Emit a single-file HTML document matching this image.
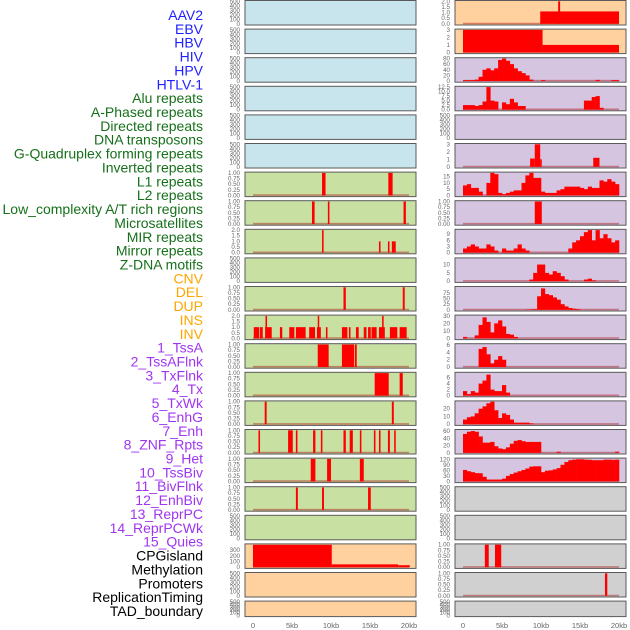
<!DOCTYPE html>
<html><head><meta charset="utf-8">
<style>
html,body{margin:0;padding:0;background:#fff;width:630px;height:630px;overflow:hidden}
svg{display:block}
</style></head>
<body>
<svg id="chart" width="630" height="630" viewBox="0 0 630 630" xmlns="http://www.w3.org/2000/svg" font-family="Liberation Sans, sans-serif"></svg>
<script>
const trackLabels = ["AAV2","EBV","HBV","HIV","HPV","HTLV-1","Alu repeats","A-Phased repeats","Directed repeats","DNA transposons","G-Quadruplex forming repeats","Inverted repeats","L1 repeats","L2 repeats","Low_complexity A/T rich regions","Microsatellites","MIR repeats","Mirror repeats","Z-DNA motifs","CNV","DEL","DUP","INS","INV","1_TssA","2_TssAFlnk","3_TxFlnk","4_Tx","5_TxWk","6_EnhG","7_Enh","8_ZNF_Rpts","9_Het","10_TssBiv","11_BivFlnk","12_EnhBiv","13_ReprPC","14_ReprPCWk","15_Quies","CPGisland","Methylation","Promoters","ReplicationTiming","TAD_boundary"];
const labelGroups = [6,13,5,15,5];
const groupColors = ["#1f1fff","#16701a","#ffa500","#a035f0","#000000"];
const xTickValues = [0,5,10,15,20];
const xTickLabels = ["0","5kb","10kb","15kb","20kb"];

const ticks500 = [0,100,200,300,400,500];
const ticks1 = [0,0.25,0.5,0.75,1.0];
const ticks2 = [0,0.5,1.0,1.5,2.0];

// right-column histograms (0.5kb bins, 40 bins over 0-20kb)
const hivBins = [3,3,3,5,15,40,45,38,45,75,80,72,60,45,35,28,20,5,0,0,3,0,0,0,0,0,0,0,0,0,0,0,0,0,4,0,0,0,3,3];
const aluBins = [2.5,2.5,2.5,2,2.5,4.5,12.5,5,4.5,0,4,3,6,4,2,2,0,0,0,0,0,0,0,0,0,0,0,0,0,0,0,5,5,7,7.5,1,0,0,0,0];
const gquadBins = [8,9,6,6,3,0,10,18,17,2,1,2,3,4,4,10,16,18,14,14,3,2,2,2,4,5,7,7,7,7,6,5,7,6,6,12,11,13,11,9];
const mirBins = [2,3,4,3,2,2,4,3,1,0,2,1,1,2,4,2,1,0,0,0,0,0,0,0,0,0,0,2,5,6,8,10,11,6,11,7,9,7,5,6];
const zdnaBins = [0,0,0,0,0,0,0,0,0,0,0,0,0,0,0,0,0,1,5,10,10,5,4,6,5,3,1,0,0,0,0,1,1.5,0.5,0,0,0,0,0,0];
const delBins = [0,0,0,0,0,0,0,0,0,0,0,0,0,0,0,0,1,2,3,60,95,70,65,55,45,25,15,8,5,3,0,0,0,0,0,0,0,0,0,0];
const insRightBins = [2,0,0,4,18,28,22,8,20,24,16,6,5,2,0,0,0,0,0,0,0,0,0,0,0,0,0,0,0,0,0,0,0,0,0,0,0,0,0,0];
const tssaBins = [0,0,0,0,5,5.5,3.5,1,2,3,2,0,0,0,0,0,0,0,0,0,0,0,0,0,0,0,0,0,0,0,0,0,0,0,0,0,0,0,0,0];
const tssaflnkBins = [1.5,0.5,1.5,1,4,5,7,2,1.5,1.5,3.5,1,0,0,0,0,0,0,0,0,0,0,0,0,0,0,0,0,0,0,0,0,0,0,0,0,0,0,0,0];
const txflnkBins = [6,9,10,14,20,23,27,29,18,8,14,12,6,2,2,2,2,1,0,0,0,0,0,0,0,0,0,0,0,0,0,0,0,0,0,0,0,0,0,0];
const txBins = [52,58,60,58,45,28,28,30,18,12,10,15,25,33,35,32,30,30,30,30,0,0,0,0,3,0,0,0,0,0,0,0,0,0,0,0,0,0,0,3];
const txwkBins = [62,55,50,45,44,25,10,10,10,10,15,30,40,48,55,62,70,80,82,82,50,58,60,65,72,90,105,115,118,120,120,118,117,115,115,115,118,118,117,118];

// segment tracks: [startKb, endKb, value]
const aav2Segs = [[9.9,20,1.1],[12.2,12.45,2]];
const ebvSegs = [[0,10.2,3],[10.2,20,1]];
const dnaTranspSegs = [[8.6,9.2,1.1],[9.2,9.9,3],[9.9,10.1,1],[16.7,17.5,1.2]];
const gquadLeftSegs = [[8.85,9.3,1],[17.35,17.9,1]];
const invertedLeftSegs = [[7.56,7.9,1],[9.6,9.8,1],[19.3,19.6,1]];
const invertedRightSegs = [[9.2,10.1,1]];
const l1LeftSegs = [[8.85,9.05,2],[16.15,16.35,1],[17.3,17.5,1],[17.8,18.3,1]];
const lowcompLeftSegs = [[11.6,11.9,1],[19.2,19.45,1]];
const insLeftSegs = [[0.1,0.8,1],[0.9,1.25,1],[1.55,2.4,1],[1.6,1.8,2],[3.45,3.75,1],[4.65,5.3,1],[5.5,6.75,1],[7.2,7.95,1],[8.2,8.7,1],[8.3,8.45,2],[9.35,9.55,1],[11.4,12.1,1],[12.3,12.5,1],[13.2,13.55,1],[14.2,14.55,1],[14.75,15.1,1],[15.2,15.85,1],[16.15,16.9,1],[16.55,16.75,2],[17.55,18.5,1],[18.8,19.7,1]];
const microsatLeftSegs = [[8.3,9.7,1],[11.4,12.95,1],[13.05,13.3,1]];
const mirLeftSegs = [[15.6,17.4,1],[18.8,19.2,1]];
const mirrorLeftSegs = [[1.5,1.75,1],[17.8,18.05,1]];
const zdnaLeftSegs = [[0.7,0.9,1],[4.5,5.1,1],[5.5,5.7,1],[7.7,8.0,1],[8.7,8.9,1],[11.6,11.9,1],[12.4,12.8,1],[13.7,13.9,1],[15.5,15.7,1],[16.15,16.35,1],[17.3,17.55,1],[18.1,18.3,1]];
const cnvLeftSegs = [[7.4,8.0,1],[9.5,10.0,1],[13.7,14.2,1]];
const delLeftSegs = [[5.5,5.75,1],[8.85,9.1,1],[14.75,15.1,1]];
const cpgLeftSegs = [[0,10.1,393],[10.1,18.6,50],[18.6,20.1,35]];
const cpgRightSegs = [[2.8,3.3,1],[4.1,4.9,1]];
const methRightSegs = [[18.2,18.5,1]];

const BLUE="#c8e4ec", GREEN="#c8e0a2", PURP="#d5c5e1", ORNG="#ffd19f", GREY="#d0d0d0";
const leftPanels = [
 {bg:BLUE,ticks:ticks500,ymax:500},{bg:BLUE,ticks:ticks500,ymax:500},{bg:BLUE,ticks:ticks500,ymax:500},
 {bg:BLUE,ticks:ticks500,ymax:500},{bg:BLUE,ticks:ticks500,ymax:500},{bg:BLUE,ticks:ticks500,ymax:500},
 {bg:GREEN,ticks:ticks1,ymax:1,segs:gquadLeftSegs},{bg:GREEN,ticks:ticks1,ymax:1,segs:invertedLeftSegs},
 {bg:GREEN,ticks:ticks2,ymax:2,segs:l1LeftSegs},{bg:GREEN,ticks:ticks500,ymax:500},
 {bg:GREEN,ticks:ticks1,ymax:1,segs:lowcompLeftSegs},{bg:GREEN,ticks:ticks2,ymax:2,segs:insLeftSegs},
 {bg:GREEN,ticks:ticks1,ymax:1,segs:microsatLeftSegs},{bg:GREEN,ticks:ticks1,ymax:1,segs:mirLeftSegs},
 {bg:GREEN,ticks:ticks1,ymax:1,segs:mirrorLeftSegs},{bg:GREEN,ticks:ticks1,ymax:1,segs:zdnaLeftSegs},
 {bg:GREEN,ticks:ticks1,ymax:1,segs:cnvLeftSegs},{bg:GREEN,ticks:ticks1,ymax:1,segs:delLeftSegs},
 {bg:GREEN,ticks:ticks500,ymax:500},{bg:ORNG,ticks:[0,100,200,300],ymax:395,segs:cpgLeftSegs},
 {bg:ORNG,ticks:ticks500,ymax:500},{bg:ORNG,ticks:ticks500,ymax:500}
];
const rightPanels = [
 {bg:ORNG,ticks:ticks2,ymax:2,segs:aav2Segs},{bg:ORNG,ticks:[0,1,2,3],ymax:3,segs:ebvSegs},
 {bg:PURP,ticks:[0,20,40,60,80],ymax:80,bins:hivBins},{bg:PURP,ticks:[0,2.5,5,7.5,10,12.5],ymax:12.5,bins:aluBins,fmt:1},
 {bg:PURP,ticks:ticks500,ymax:500},{bg:PURP,ticks:[0,1,2,3],ymax:3,segs:dnaTranspSegs},
 {bg:PURP,ticks:[0,5,10,15],ymax:18,bins:gquadBins},{bg:PURP,ticks:ticks1,ymax:1,segs:invertedRightSegs},
 {bg:PURP,ticks:[0,3,6,9],ymax:11,bins:mirBins},{bg:PURP,ticks:[0,5,10],ymax:13.5,bins:zdnaBins},
 {bg:PURP,ticks:[0,25,50,75],ymax:100,bins:delBins},{bg:PURP,ticks:[0,10,20,30],ymax:30,bins:insRightBins},
 {bg:PURP,ticks:[0,2,4,6],ymax:6.2,bins:tssaBins},{bg:PURP,ticks:[0,2,4,6],ymax:7.5,bins:tssaflnkBins},
 {bg:PURP,ticks:[0,10,20],ymax:29,bins:txflnkBins},{bg:PURP,ticks:[0,20,40,60],ymax:62,bins:txBins},
 {bg:PURP,ticks:[0,30,60,90,120],ymax:122,bins:txwkBins},{bg:GREY,ticks:ticks500,ymax:500},
 {bg:GREY,ticks:ticks500,ymax:500},{bg:GREY,ticks:ticks1,ymax:1,segs:cpgRightSegs},
 {bg:GREY,ticks:ticks1,ymax:1,segs:methRightSegs},{bg:GREY,ticks:ticks500,ymax:500}
];

const NS="http://www.w3.org/2000/svg";
const svg=document.getElementById('chart');
function mk(tag,attrs,parent){const e=document.createElementNS(NS,tag);for(const k in attrs)e.setAttribute(k,attrs[k]);(parent||svg).appendChild(e);return e;}

// labels
let li=0;
labelGroups.forEach((n,g)=>{for(let k=0;k<n;k++){
  const t=mk('text',{x:203,y:(20+li*13.86).toFixed(1),'text-anchor':'end','font-size':'14',fill:groupColors[g]});
  t.textContent=trackLabels[li];
  
  
  li++;}});

function fmtTick(v,ticks){
  const dec = ticks.some(t=>Math.abs(t-Math.round(t))>1e-9 && Math.abs(t*2-Math.round(t*2))>1e-9) ? 2 :
              ticks.some(t=>Math.abs(t-Math.round(t))>1e-9) ? 1 : 0;
  return v.toFixed(dec);
}

function drawPanel(p,row,x0,side){
  const top=0.5+row*28.6, h=(row===21?15.5:24.5), w=171;
  const g=mk('g',{});
  
  
  const bg=mk('rect',{x:x0,y:top,width:w,height:h,fill:p.bg,stroke:'#5a5a5a','stroke-width':1},g);
  
  
  const xs=kb=>x0+8+kb*7.8;
  const y0=top+h-1.2, yTop=top+0.8;
  const ys=v=>y0-(v/p.ymax)*(y0-yTop);
  p.ticks.forEach(tv=>{
    const t=mk('text',{x:x0-5,y:(ys(tv)+2).toFixed(1),'text-anchor':'end','font-size':'6.2',fill:'#666'},g);
    t.textContent=fmtTick(tv,p.ticks);
    
    
  });
  const hasData=p.bins||p.segs;
  if(hasData){
    const bl=mk('line',{x1:xs(0),x2:xs(20),y1:y0-0.3,y2:y0-0.3,stroke:'rgba(170,20,20,0.45)','stroke-width':1.6},g);
    
    
  }
  if(p.bins){
    p.bins.forEach((v,i)=>{ if(v<=0)return;
      const r=mk('rect',{x:xs(i*0.5),y:ys(v),width:xs((i+1)*0.5)-xs(i*0.5)+0.3,height:y0-ys(v),fill:'#ff0000'},g);
      
      
    });
  }
  if(p.segs){
    p.segs.forEach(s=>{
      const wd=Math.max(1.5,xs(s[1])-xs(s[0]));
      const r=mk('rect',{x:xs(s[0]),y:ys(s[2]),width:wd,height:y0-ys(s[2]),fill:'#ff0000'},g);
      
      
    });
  }
}
leftPanels.forEach((p,i)=>drawPanel(p,i,245,'left'));
rightPanels.forEach((p,i)=>drawPanel(p,i,455,'right'));

[245,455].forEach(x0=>{
  xTickValues.forEach((v,i)=>{
    const t=mk('text',{x:x0+8+v*7.8,y:628,'text-anchor':'middle','font-size':'7.5',fill:'#666'});
    t.textContent=xTickLabels[i];
    
    
  });
});
</script>
</body></html>
